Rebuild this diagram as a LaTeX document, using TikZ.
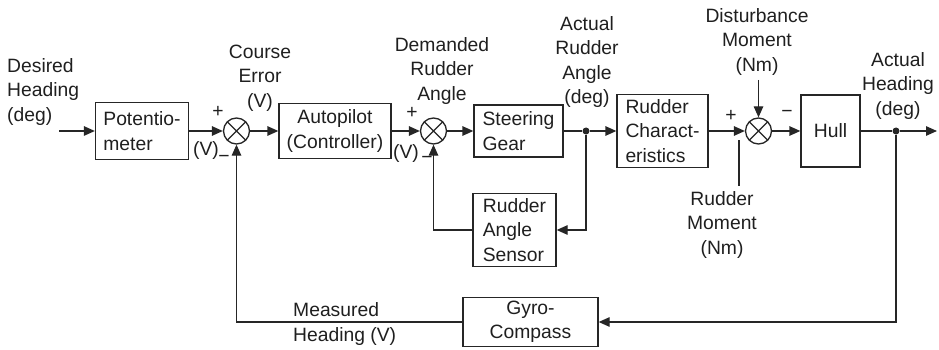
\documentclass[tikz,border=0pt]{standalone}
\usepackage{fontspec}
\setmainfont{Liberation Sans}
\usetikzlibrary{arrows.meta}
\begin{document}
\begin{tikzpicture}[x=1pt,y=-1pt,
  every node/.style={font=\fontsize{19.3}{24.5}\selectfont, text=black!88},
  line/.style={draw=black!85, line width=1.3pt},
  arr/.style={line, -{Triangle[length=11pt,width=9.5pt]}},
  blk/.style={draw=black!85, line width=1.3pt, align=left, inner sep=0pt},
  cblk/.style={draw=black!85, line width=1.3pt, align=center, inner sep=0pt},
  sumnode/.style={circle, draw=black!85, line width=1.3pt, minimum size=26pt, inner sep=0pt,
    path picture={\draw[black!85, line width=1.1pt]
      (path picture bounding box.north west) -- (path picture bounding box.south east)
      (path picture bounding box.north east) -- (path picture bounding box.south west);}},
  lbl/.style={align=center, inner sep=0pt},
  lbll/.style={align=left, inner sep=0pt},
  sgn/.style={inner sep=0pt},
  dot/.style={circle, fill=black!85, inner sep=0pt, minimum size=7pt}
]
\useasboundingbox (0,0) rectangle (939,350);

% blocks
\node[blk, minimum width=93pt, minimum height=57pt] (pot) at (142,131) {Potentio-\\meter};
\node[cblk, minimum width=112pt, minimum height=55pt] (ap) at (335,131) {Autopilot\\(Controller)};
\node[blk, minimum width=89pt, minimum height=52pt] (sg) at (518.5,131) {Steering\\Gear};
\node[blk, minimum width=83pt, minimum height=73pt] (ras) at (514.5,230) {Rudder\\Angle\\Sensor};
\node[blk, minimum width=91pt, minimum height=73pt] (rc) at (662.5,131) {Rudder\\Charact-\\eristics};
\node[cblk, minimum width=59pt, minimum height=72pt] (hull) at (830.5,131) {Hull};
\node[cblk, minimum width=135pt, minimum height=49pt] (gyro) at (530.5,322) {Gyro-\\Compass};

% summing junctions
\node[sumnode] (s1) at (236.5,131) {};
\node[sumnode] (s2) at (433.5,131) {};
\node[sumnode] (s3) at (758.5,131) {};

% junction dots and free ends
\node[dot] (j1) at (586,131) {};
\node[dot] (j2) at (896,131) {};
\coordinate (in) at (59,131);
\coordinate (out) at (937,131);
\coordinate (dist) at (758.5,80);
\coordinate (rm1) at (739,140);
\coordinate (rm2) at (739,186);

% forward path
\draw[arr] (in) -- (pot);
\draw[arr] (pot) -- (s1);
\draw[arr] (s1) -- (ap);
\draw[arr] (ap) -- (s2);
\draw[arr] (s2) -- (sg);
\draw[line] (sg) -- (j1);
\draw[arr] (j1) -- (rc);
\draw[arr] (rc) -- (s3);
\draw[arr] (s3) -- (hull);
\draw[line] (hull) -- (j2);
\draw[arr] (j2) -- (out);
\draw[arr] (dist) -- (s3);
\draw[line] (rm1) -- (rm2);

% feedback paths
\draw[arr] (j1) |- (ras.east);
\draw[arr] (ras.west) -| (s2.south);
\draw[arr] (j2) |- (gyro.east);
\draw[arr] (gyro.west) -| (s1.south);

% labels
\node[lbll, anchor=west] (tdes) at (7,92) {Desired\\Heading\\(deg)};
\node[lbl] (tce) at (260,78) {Course\\Error\\(V)};
\node[lbl] (tdra) at (442,71) {Demanded\\Rudder\\Angle};
\node[lbl] (tara) at (587,62) {Actual\\Rudder\\Angle\\(deg)};
\node[lbl] (tdm) at (757,42) {Disturbance\\Moment\\(Nm)};
\node[lbl] (tah) at (898,86) {Actual\\Heading\\(deg)};
\node[lbl] (trm) at (722,225) {Rudder\\Moment\\(Nm)};
\node[lbll, anchor=west] (tmh) at (293,324) {Measured\\Heading (V)};

% signs
\node[sgn] (p1) at (218,112) {+};
\node[sgn] (v1) at (206,151) {(V)};
\node[sgn] (m1) at (224,159) {−};
\node[sgn] (p2) at (412,113) {+};
\node[sgn] (v2) at (406,154) {(V)};
\node[sgn] (m2) at (427,160) {−};
\node[sgn] (p3) at (731,116) {+};
\node[sgn] (m3) at (787,114) {−};
\end{tikzpicture}
\end{document}
